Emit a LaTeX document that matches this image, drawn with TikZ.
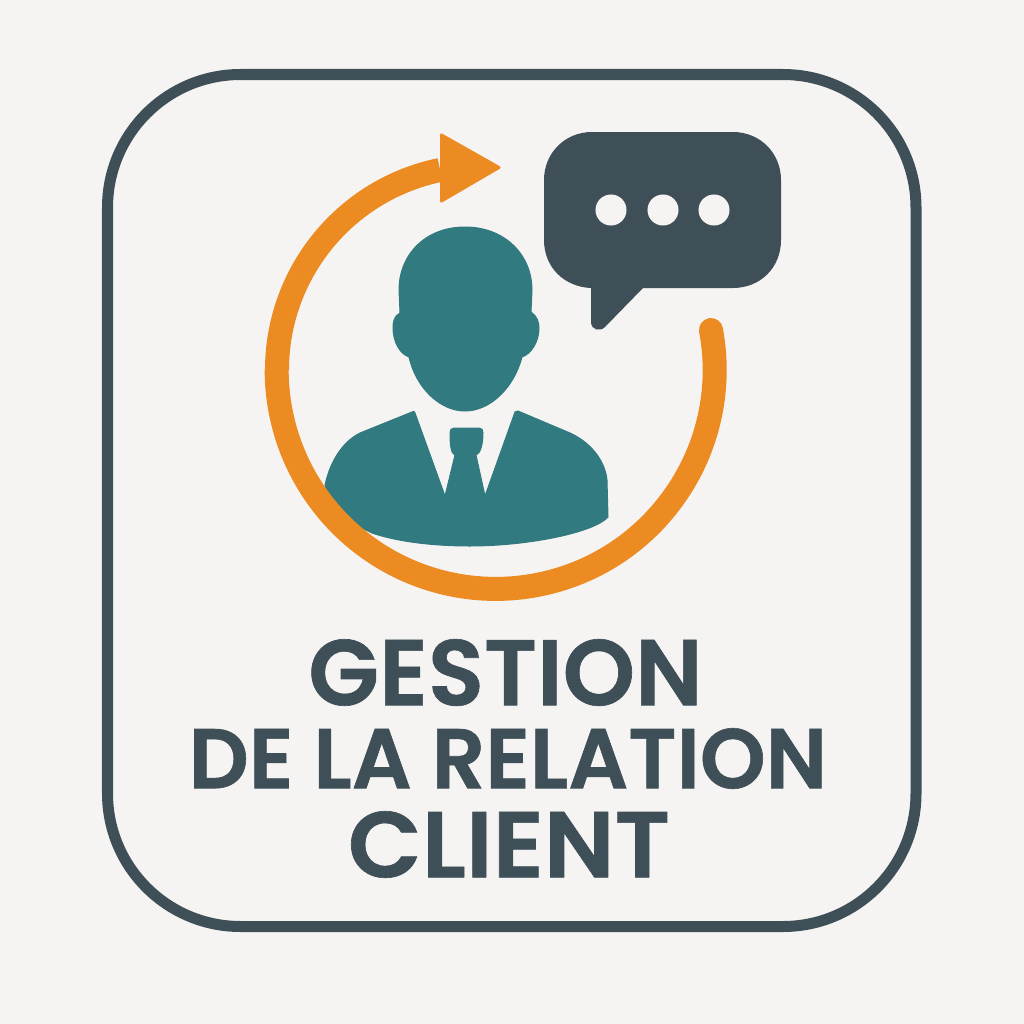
\documentclass[tikz,border=0pt]{standalone}
\usepackage{fontspec}
\usepackage{graphicx}
\setmainfont{Poppins SemiBold}[RawFeature={embolden=0.7}]
\definecolor{bgc}{HTML}{F6F4F2}
\definecolor{slatec}{HTML}{3E4F58}
\definecolor{tealc}{HTML}{317A80}
\definecolor{orangec}{HTML}{EC8B22}
\tikzset{
  frameline/.style={draw=slatec,line width=0.11cm,rounded corners=1.33cm},
  orangeline/.style={draw=orangec,line width=0.24cm},
  tealshape/.style={fill=tealc,draw=tealc,line width=0.01cm,line join=round},
  title/.style={inner sep=0pt,outer sep=0pt,text=slatec},
  dot/.style={fill=bgc,draw=none}
}
\begin{document}
\begin{tikzpicture}[x=0.01cm,y=-0.01cm]
\useasboundingbox (0,0) rectangle (1024,1024);
\fill[bgc] (0,0) rectangle (1024,1024);
% frame
\draw[frameline] (107.5,74.5) rectangle (916,926.5);
% person: head
\path[tealshape] (465,227)
  .. controls (425,227) and (399,255) .. (399,290)
  -- (400,313)
  .. controls (394,316) and (393,322) .. (393,328)
  .. controls (393,342) and (400,354) .. (409,357)
  .. controls (416,388) and (440,411) .. (465,411)
  .. controls (490,411) and (514,388) .. (522,357)
  .. controls (531,354) and (539,342) .. (539,328)
  .. controls (539,322) and (537,316) .. (531,312)
  -- (532,290)
  .. controls (532,255) and (505,227) .. (465,227) -- cycle;
% person: body
\path[tealshape] (412,412) .. controls (413,411) and (415,411) .. (415,413)
  -- (445,496) -- (455,455)
  .. controls (451,454) and (450,445) .. (450,433)
  .. controls (450,430) and (451,428) .. (454,428)
  -- (479,428)
  .. controls (482,428) and (483,430) .. (483,433)
  .. controls (483,445) and (480,454) .. (476,455)
  -- (485,496) -- (515,412)
  .. controls (516,411) and (517,411) .. (518,411)
  -- (570,433)
  .. controls (590,442) and (605,460) .. (607,480)
  -- (608,517)
  .. controls (595,532) and (530,546) .. (470,546)
  .. controls (430,546) and (395,541) .. (372,533)
  -- (335,515) -- (325,485)
  .. controls (330,462) and (342,442) .. (360,433)
  -- cycle;
% circular arrow
\coordinate (arrowstart) at (711,330);
\draw[orangeline,line cap=round] (arrowstart) arc[start angle=-10.5,end angle=180,radius=219];
\draw[orangeline] (277,370) arc[start angle=180,end angle=258.4,radius=204.2] coordinate (shaftend);
\path[fill=orangec,draw=orangec,line width=0.03cm,line join=round] (441.5,135) -- (499,167.5) -- (441.5,201) -- cycle;
% speech bubble
\path[fill=slatec] (591,288)
  .. controls (565,287) and (544,268) .. (544,240)
  -- (544,180)
  .. controls (544,153) and (565,132) .. (592,132)
  -- (733,132)
  .. controls (760,132) and (781,153) .. (781,180)
  -- (781,240)
  .. controls (781,268) and (760,288) .. (733,288)
  -- (643,288) -- (605,327)
  .. controls (600,332) and (592,330) .. (591,323) -- cycle;
\node[dot,circle,minimum size=0.31cm,inner sep=0pt] (d1) at (611,210) {};
\node[dot,circle,minimum size=0.31cm,inner sep=0pt] (d2) at (663,210) {};
\node[dot,circle,minimum size=0.31cm,inner sep=0pt] (d3) at (714,210) {};
% title
\node[title] (t1) at (505.5,672.5) {\resizebox{3.94cm}{0.66cm}{GESTION}};
\node[title] (t2) at (508,758.5) {\resizebox{6.38cm}{0.60cm}{DE LA RELATION}};
\node[title] (t3) at (509,844.5) {\resizebox{3.22cm}{0.66cm}{CLIENT}};
\end{tikzpicture}
\end{document}
